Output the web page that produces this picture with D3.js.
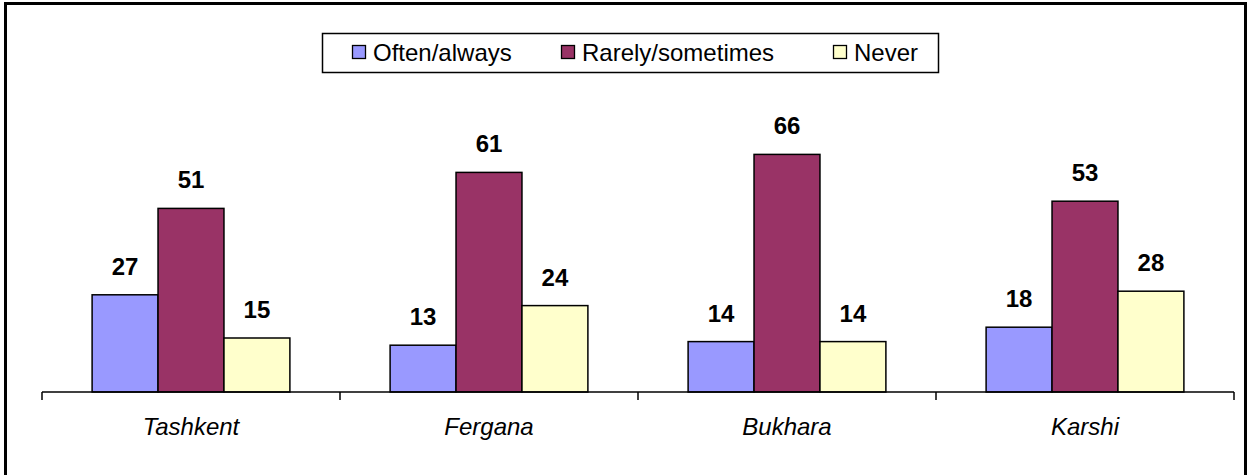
<!DOCTYPE html>
<html>
<head>
<style>
  body { margin: 0; background: #fff; }
  svg { display: block; font-family: Arial, "Liberation Sans", sans-serif; }
</style>
</head>
<body>
<script src="https://d3js.org/d3.v7.min.js"></script>
<script>
  const cities = ["Tashkent", "Fergana", "Bukhara", "Karshi"];
  const seriesNames = ["Often/always", "Rarely/sometimes", "Never"];
  const often = [27, 13, 14, 18];
  const rarely = [51, 61, 66, 53];
  const never = [15, 24, 14, 28];
  const colors = ["#9999FF", "#993366", "#FFFFCC"];

  const W = 1251, H = 475;
  const svg = d3.select("body").append("svg").attr("width", W).attr("height", H);

  // outer frame
  svg.append("rect")
    .attr("x", 5.5).attr("y", 3.5)
    .attr("width", 1240).attr("height", 490)
    .attr("fill", "#fff").attr("stroke", "#000").attr("stroke-width", 3);

  const x0 = d3.scaleBand().domain(cities).range([42, 1234]);
  const x1 = d3.scaleBand().domain(seriesNames).range([0, x0.bandwidth()]).paddingOuter(0.76);
  const y = d3.scaleLinear().domain([0, 70]).range([392, 140]);

  const rows = cities.map((c, i) => ({ city: c, vals: [often[i], rarely[i], never[i]] }));

  const g = svg.selectAll("g.city").data(rows).enter().append("g")
    .attr("class", "city")
    .attr("transform", d => `translate(${x0(d.city)},0)`);

  g.selectAll("rect").data(d => d.vals.map((v, k) => ({ v, k }))).enter().append("rect")
    .attr("x", d => x1(seriesNames[d.k]))
    .attr("y", d => y(d.v))
    .attr("width", x1.bandwidth())
    .attr("height", d => y(0) - y(d.v))
    .attr("fill", d => colors[d.k])
    .attr("stroke", "#000").attr("stroke-width", 1.5);

  g.selectAll("text.val").data(d => d.vals.map((v, k) => ({ v, k }))).enter().append("text")
    .attr("class", "val")
    .attr("x", d => x1(seriesNames[d.k]) + x1.bandwidth() / 2)
    .attr("y", d => y(d.v) - 20)
    .attr("text-anchor", "middle")
    .style("font-size", "24px").style("font-weight", "bold")
    .text(d => d.v);

  // category axis with ticks at band edges
  const axis = svg.append("g");
  axis.append("line")
    .attr("x1", x0.range()[0]).attr("x2", x0.range()[1])
    .attr("y1", y(0)).attr("y2", y(0))
    .attr("stroke", "#000").attr("stroke-width", 1.5);
  const edges = cities.map(c => x0(c)).concat([x0.range()[1]]);
  axis.selectAll("line.tick").data(edges).enter().append("line")
    .attr("class", "tick")
    .attr("x1", d => d).attr("x2", d => d)
    .attr("y1", y(0)).attr("y2", y(0) + 8)
    .attr("stroke", "#000").attr("stroke-width", 1.5);
  axis.selectAll("text").data(cities).enter().append("text")
    .attr("x", d => x0(d) + x0.bandwidth() / 2)
    .attr("y", 435)
    .attr("text-anchor", "middle")
    .style("font-size", "24px").style("font-style", "italic")
    .text(d => d);

  // legend
  const legend = svg.append("g");
  legend.append("rect")
    .attr("x", 322.5).attr("y", 33.5).attr("width", 616).attr("height", 39)
    .attr("fill", "#fff").attr("stroke", "#000").attr("stroke-width", 1.5);
  const legX = [352, 561, 833];
  const items = legend.selectAll("g.item").data(seriesNames).enter().append("g")
    .attr("class", "item")
    .attr("transform", (d, i) => `translate(${legX[i]},45)`);
  items.append("rect")
    .attr("x", 0.5).attr("y", 0.5)
    .attr("width", 13).attr("height", 13)
    .attr("fill", (d, i) => colors[i])
    .attr("stroke", "#000").attr("stroke-width", 1.3);
  items.append("text")
    .attr("x", 21).attr("y", 16)
    .style("font-size", "24px")
    .text(d => d);
</script>
</body>
</html>
